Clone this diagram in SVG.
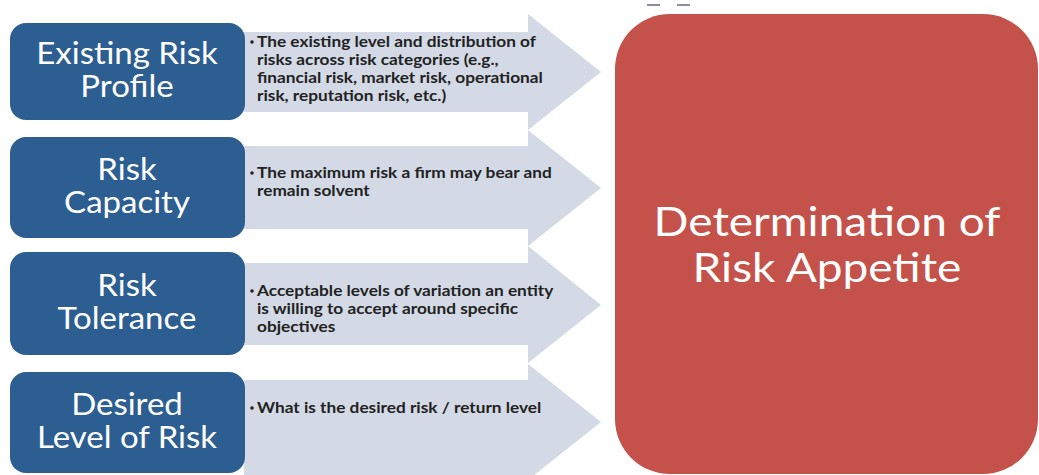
<svg xmlns="http://www.w3.org/2000/svg" width="1039" height="475" viewBox="0 0 1039 475">
<style>
.box{fill:#2D5E92;}
.arr{fill:#D3DAE6;}
.dot{fill:#222222;}
.ttl{font-family:Lato,"Open Sans","Liberation Sans",sans-serif;font-size:30px;fill:#FFFFFF;text-anchor:middle;}
.txt{font-family:Lato,"Open Sans","Liberation Sans",sans-serif;font-size:15px;font-weight:700;fill:#222222;}
.big{font-family:Lato,"Open Sans","Liberation Sans",sans-serif;font-size:40px;fill:#FFFFFF;text-anchor:middle;}
</style>
<rect width="1039" height="475" fill="#FFFFFF"/>
<g id="connectors">
<path class="arr" d="M244,32 H528 V14 L601,72 L528,130 V112 H244 Z"/>
<path class="arr" d="M244,146 H528 V130 L601,188 L528,246 V229 H244 Z"/>
<path class="arr" d="M244,263 H528 V246 L601,305 L528,363 V345 H244 Z"/>
<path class="arr" d="M244,380 H528 V364 L601,422 L528,480 V480 H244 Z"/>
</g>
<g id="marks">
<line x1="647" y1="5" x2="660" y2="5" stroke="#8A8F99" stroke-width="2"/>
<line x1="677" y1="5" x2="690" y2="5" stroke="#8A8F99" stroke-width="2"/>
</g>
<g id="node-existing">
<rect class="box" x="10" y="23" width="235" height="97" rx="16"/>
<g transform="matrix(1.1,0,0,1,-12.7,0)">
<text class="ttl" x="127" y="64">Existing Risk</text>
<text class="ttl" x="127" y="97">Profile</text>
</g>
<circle class="dot" cx="252" cy="42" r="1.8"/>
<g transform="matrix(1.15,0,0,1,-38.55,0)">
<text class="txt" x="257" y="47">The existing level and distribution of</text>
<text class="txt" x="257" y="65">risks across risk categories (e.g.,</text>
<text class="txt" x="257" y="83">financial risk, market risk, operational</text>
<text class="txt" x="257" y="101">risk, reputation risk, etc.)</text>
</g>
</g>
<g id="node-capacity">
<rect class="box" x="10" y="137" width="235" height="101" rx="16"/>
<g transform="matrix(1.1,0,0,1,-12.7,0)">
<text class="ttl" x="127" y="180">Risk</text>
<text class="ttl" x="127" y="213">Capacity</text>
</g>
<circle class="dot" cx="252" cy="173" r="1.8"/>
<g transform="matrix(1.15,0,0,1,-38.55,0)">
<text class="txt" x="257" y="178">The maximum risk a firm may bear and</text>
<text class="txt" x="257" y="196">remain solvent</text>
</g>
</g>
<g id="node-tolerance">
<rect class="box" x="10" y="252" width="235" height="103" rx="16"/>
<g transform="matrix(1.1,0,0,1,-12.7,0)">
<text class="ttl" x="127" y="296">Risk</text>
<text class="ttl" x="127" y="329">Tolerance</text>
</g>
<circle class="dot" cx="252" cy="291" r="1.8"/>
<g transform="matrix(1.15,0,0,1,-38.55,0)">
<text class="txt" x="257" y="296">Acceptable levels of variation an entity</text>
<text class="txt" x="257" y="314">is willing to accept around specific</text>
<text class="txt" x="257" y="332">objectives</text>
</g>
</g>
<g id="node-desired">
<rect class="box" x="10" y="372" width="235" height="101" rx="16"/>
<g transform="matrix(1.1,0,0,1,-12.7,0)">
<text class="ttl" x="127" y="415">Desired</text>
<text class="ttl" x="127" y="448">Level of Risk</text>
</g>
<circle class="dot" cx="252" cy="408" r="1.8"/>
<g transform="matrix(1.15,0,0,1,-38.55,0)">
<text class="txt" x="257" y="413">What is the desired risk / return level</text>
</g>
</g>
<g id="node-appetite">
<rect x="615" y="14" width="423" height="460" rx="55" fill="#C4524A"/>
<g transform="matrix(1.15,0,0,1,-124.05,0)">
<text class="big" x="827" y="236">Determination of</text>
<text class="big" x="827" y="282">Risk Appetite</text>
</g>
</g>
</svg>
